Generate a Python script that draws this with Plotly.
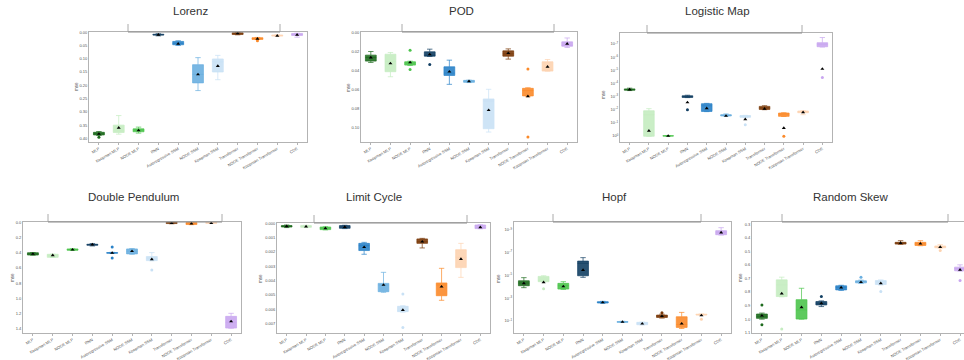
import plotly.graph_objects as go

W, H = 964, 360

methods = ["MLP", "Koopman MLP", "NODE MLP", "RNN", "Autoregressive SSM", "NODE SSM",
           "Koopman SSM", "Transformer", "NODE Transformer", "Koopman Transformer", "CDE"]

colors = ["#1e6b1e", "#c4ecc0", "#4cc44c", "#123f63", "#2a82c8", "#6aafe0",
          "#c9e1f5", "#7a3a0a", "#fb8a2a", "#fdd3b0", "#c9a6f0"]

# per method: [lower whisker, q1, median, q3, upper whisker, mean]
lorenz_stats = [
    [0.374, 0.377, 0.381, 0.387, 0.389, 0.383],
    [0.314, 0.350, 0.369, 0.3775, 0.384, 0.360],
    [0.3575, 0.364, 0.369, 0.375, 0.380, 0.370],
    [0.006, 0.008, 0.010, 0.011, 0.014, 0.010],
    [0.0325, 0.035, 0.0425, 0.0475, 0.050, 0.044],
    [0.096, 0.1225, 0.159, 0.191, 0.220, 0.159],
    [0.0875, 0.101, 0.111, 0.150, 0.179, 0.1275],
    [0.001, 0.0025, 0.005, 0.009, 0.010, 0.005],
    [0.020, 0.021, 0.0225, 0.0275, 0.028, 0.025],
    [0.010, 0.011, 0.0125, 0.015, 0.016, 0.014],
    [0.004, 0.005, 0.0075, 0.0125, 0.019, 0.010],
]
lorenz_outliers = [[0.396], [], [], [], [], [], [], [], [0.0325], [], []]

pod_stats = [
    [0.0203, 0.0241, 0.0266, 0.0304, 0.0318, 0.0266],
    [0.0213, 0.0231, 0.0308, 0.0416, 0.0469, 0.0329],
    [0.0305, 0.0311, 0.0325, 0.0346, 0.0350, 0.0318],
    [0.0178, 0.0206, 0.0245, 0.0252, 0.0255, 0.0234],
    [0.0294, 0.0364, 0.0430, 0.0455, 0.0549, 0.0416],
    [0.0505, 0.0507, 0.0515, 0.0528, 0.0530, 0.0517],
    [0.0601, 0.0703, 0.0724, 0.1017, 0.1052, 0.0822],
    [0.0175, 0.0196, 0.0227, 0.0252, 0.0283, 0.0220],
    [0.0585, 0.0591, 0.0615, 0.0671, 0.0680, 0.0675],
    [0.0287, 0.0311, 0.0402, 0.0409, 0.0410, 0.0364],
    [0.0060, 0.0101, 0.0136, 0.0147, 0.0160, 0.0122],
]
pod_outliers = [[], [], [0.0189, 0.0392], [0.0339], [], [], [], [], [0.0388, 0.1105], [], []]

logistic_stats = [
    [2.3e-4, 2.6e-4, 2.9e-4, 3.3e-4, 3.5e-4, 2.9e-4],
    [8.3e-3, 1.2e-2, 2.4e-2, 1.05, 1.05, 0.41],
    [0.95, 0.97, 0.99, 1.01, 1.03, 0.99],
    [7.9e-4, 8.7e-4, 1.0e-3, 1.17e-3, 1.2e-3, 2.8e-3],
    [3.3e-3, 3.5e-3, 5.0e-3, 1.35e-2, 1.4e-2, 7.9e-3],
    [2.1e-2, 2.4e-2, 2.7e-2, 3.0e-2, 3.1e-2, 3.0e-2],
    [2.7e-2, 2.8e-2, 3.2e-2, 3.8e-2, 4.0e-2, 5.4e-2],
    [5.0e-3, 5.6e-3, 7.2e-3, 9.5e-3, 1.0e-2, 8.5e-3],
    [1.7e-2, 1.8e-2, 2.2e-2, 3.2e-2, 3.3e-2, 0.25],
    [1.2e-2, 1.26e-2, 1.5e-2, 1.7e-2, 2.4e-2, 1.6e-2],
    [3.2e-8, 7.9e-8, 1.05e-7, 1.6e-7, 1.7e-7, 7.9e-6],
]
logistic_outliers = [[], [], [], [1.0e-2], [], [], [0.14], [], [1.05], [], [3.5e-5]]

pendulum_stats = [
    [0.398, 0.400, 0.415, 0.430, 0.432, 0.415],
    [0.418, 0.420, 0.424, 0.460, 0.462, 0.433],
    [0.348, 0.350, 0.360, 0.367, 0.370, 0.360],
    [0.280, 0.289, 0.293, 0.302, 0.311, 0.293],
    [0.395, 0.398, 0.402, 0.406, 0.410, 0.402],
    [0.345, 0.350, 0.380, 0.415, 0.420, 0.380],
    [0.398, 0.450, 0.472, 0.503, 0.505, 0.486],
    [0.000, 0.002, 0.006, 0.0175, 0.020, 0.013],
    [0.002, 0.004, 0.017, 0.030, 0.032, 0.017],
    [0.000, 0.002, 0.006, 0.015, 0.017, 0.013],
    [1.194, 1.234, 1.312, 1.387, 1.390, 1.300],
]
pendulum_outliers = [[], [], [], [], [0.324, 0.468], [], [0.626], [], [], [], []]

limit_stats = [
    [0.00012, 0.00016, 0.00021, 0.00026, 0.00030, 0.00021],
    [0.00014, 0.00016, 0.00023, 0.00028, 0.00030, 0.00023],
    [0.00024, 0.00026, 0.00035, 0.00044, 0.00046, 0.00035],
    [0.00014, 0.00016, 0.00026, 0.00035, 0.00037, 0.00026],
    [0.00133, 0.00140, 0.00156, 0.00190, 0.00216, 0.00167],
    [0.00342, 0.00419, 0.00430, 0.00477, 0.00481, 0.00430],
    [0.00575, 0.00579, 0.00612, 0.00616, 0.00620, 0.00605],
    [0.00105, 0.00109, 0.00128, 0.00140, 0.00172, 0.00128],
    [0.00314, 0.00416, 0.00430, 0.00505, 0.00537, 0.00442],
    [0.00140, 0.00184, 0.00237, 0.00309, 0.00377, 0.00249],
    [0.00010, 0.00012, 0.00035, 0.00037, 0.00038, 0.00028],
]
limit_outliers = [[], [], [], [], [], [], [0.00493, 0.00726], [], [], [], []]

hopf_stats = [
    [1.55e-5, 2.9e-5, 4.6e-5, 7.9e-5, 1.17e-4, 4.9e-5],
    [1.05e-5, 1.2e-5, 2.7e-5, 3.5e-5, 3.6e-5, 4.0e-5],
    [3.5e-5, 4.9e-5, 7.9e-5, 1.55e-4, 1.66e-4, 9.1e-5],
    [2.7e-7, 5.4e-7, 8.5e-7, 1.05e-5, 1.45e-5, 3.3e-6],
    [1.86e-3, 2.0e-3, 2.3e-3, 2.6e-3, 2.8e-3, 2.3e-3],
    [0.105, 0.11, 0.12, 0.13, 0.135, 0.12],
    [0.125, 0.13, 0.16, 0.21, 0.22, 0.17],
    [2.5e-2, 3.0e-2, 3.7e-2, 4.8e-2, 5.5e-2, 3.7e-2],
    [1.74e-2, 4.2e-2, 0.20, 0.36, 0.45, 0.17],
    [2.4e-2, 2.5e-2, 2.8e-2, 2.95e-2, 3.0e-2, 3.2e-2],
    [6.3e-10, 1.15e-9, 1.6e-9, 2.6e-9, 2.8e-9, 1.7e-9],
]
hopf_outliers = [[], [1.45e-4], [], [], [], [], [], [1.9e-2], [], [6.8e-2], []]

skew_stats = [
    [0.955, 0.962, 0.979, 0.994, 1.000, 0.974],
    [0.690, 0.710, 0.747, 0.833, 0.835, 0.811],
    [0.772, 0.856, 0.932, 0.999, 1.000, 0.912],
    [0.865, 0.870, 0.883, 0.895, 0.907, 0.883],
    [0.750, 0.754, 0.767, 0.784, 0.788, 0.767],
    [0.712, 0.717, 0.722, 0.732, 0.737, 0.727],
    [0.710, 0.715, 0.720, 0.744, 0.748, 0.735],
    [0.421, 0.433, 0.438, 0.446, 0.448, 0.438],
    [0.421, 0.433, 0.443, 0.456, 0.458, 0.443],
    [0.450, 0.460, 0.468, 0.473, 0.476, 0.468],
    [0.599, 0.616, 0.626, 0.643, 0.645, 0.636],
]
skew_outliers = [[0.895, 1.041], [1.073], [], [0.833], [], [0.69], [0.796], [], [], [0.493], [0.715]]

lin_ticks_lorenz = [0.00, 0.05, 0.10, 0.15, 0.20, 0.25, 0.30, 0.35, 0.40]
lin_ticks_pod = [0.00, 0.02, 0.04, 0.06, 0.08, 0.10]
log_ticks_logistic = [-7, -6, -5, -4, -3, -2, -1, 0]
lin_ticks_pendulum = [0.0, 0.2, 0.4, 0.6, 0.8, 1.0, 1.2, 1.4]
lin_ticks_limit = [0.000, 0.001, 0.002, 0.003, 0.004, 0.005, 0.006, 0.007]
log_ticks_hopf = [-9, -7, -5, -3, -1]
lin_ticks_skew = [0.3, 0.4, 0.5, 0.6, 0.7, 0.8, 0.9, 1.0, 1.1]

# layout of panels (pixels)
panels = [
    dict(title="Lorenz", stats=lorenz_stats, out=lorenz_outliers, box=(89, 307, 32, 142),
         yr=[0.4135, -0.0005], ticks=lin_ticks_lorenz, fmt="{:.2f}", log=False,
         tx=190, ty=11, br=(128, 280), mse=(76, 87), xr=[-0.5, 10.5]),
    dict(title="POD", stats=pod_stats, out=pod_outliers, box=(361, 577, 32, 142),
         yr=[0.1157, -0.0003], ticks=lin_ticks_pod, fmt="{:.2f}", log=False,
         tx=461, ty=11, br=(402, 554), mse=(348, 88), xr=[-0.5, 10.5]),
    dict(title="Logistic Map", stats=logistic_stats, out=logistic_outliers, box=(620, 832, 33, 142),
         yr=[0.46, -7.84], ticks=log_ticks_logistic, fmt=None, log=True,
         tx=717, ty=11, br=(647, 802), mse=(604, 95), xr=[-0.5, 10.5]),
    dict(title="Double Pendulum", stats=pendulum_stats, out=pendulum_outliers, box=(23, 241, 222, 333),
         yr=[1.452, -0.003], ticks=lin_ticks_pendulum, fmt="{:.1f}", log=False,
         tx=133, ty=197, br=(48, 222), mse=(12, 278), xr=[-0.5, 10.5]),
    dict(title="Limit Cycle", stats=limit_stats, out=limit_outliers, box=(277, 490, 223, 333),
         yr=[0.00765, -0.00002], ticks=lin_ticks_limit, fmt="{:.3f}", log=False,
         tx=374, ty=197, br=(314, 467), mse=(260, 279), xr=[-0.5, 10.5]),
    dict(title="Hopf", stats=hopf_stats, out=hopf_outliers, box=(514, 731, 222, 333),
         yr=[0.05, -9.7], ticks=log_ticks_hopf, fmt=None, log=True,
         tx=614, ty=197, br=(553, 701), mse=(498, 279), xr=[-0.5, 10.5]),
    dict(title="Random Skew", stats=skew_stats, out=skew_outliers, box=(752, 964, 222, 333),
         yr=[1.102, 0.283], ticks=lin_ticks_skew, fmt="{:.1f}", log=False,
         tx=850, ty=197, br=(782, 948), mse=(740, 278), xr=[-0.5, 10.2]),
]


def rgba(hx, a):
    h = hx.lstrip("#")
    r, g, b = int(h[0:2], 16), int(h[2:4], 16), int(h[4:6], 16)
    return f"rgba({r},{g},{b},{a})"


fig = go.Figure()
annotations = []
shapes = []
layout = {}
FONT = "Liberation Sans, Arial, sans-serif"
FRAME = "#b3b3b3"

for i, p in enumerate(panels):
    n = i + 1
    xa = "x" if n == 1 else f"x{n}"
    ya = "y" if n == 1 else f"y{n}"
    x0, x1, y0, y1 = p["box"]
    for j, m in enumerate(methods):
        lo, q1, med, q3, hi, mean = p["stats"][j]
        c = colors[j]
        fig.add_trace(go.Box(
            x=[m], q1=[q1], median=[med], q3=[q3], lowerfence=[lo], upperfence=[hi],
            width=0.55, whiskerwidth=0.5,
            fillcolor=rgba(c, 0.9), line=dict(color=rgba(c, 0.7), width=1),
            boxpoints=False, showlegend=False, hoverinfo="skip",
            xaxis=xa, yaxis=ya))
        if p["out"][j]:
            fig.add_trace(go.Scatter(
                x=[m] * len(p["out"][j]), y=p["out"][j], mode="markers",
                marker=dict(symbol="circle", size=3, color=c), showlegend=False,
                hoverinfo="skip", xaxis=xa, yaxis=ya))
    fig.add_trace(go.Scatter(
        x=methods, y=[s[5] for s in p["stats"]], mode="markers",
        marker=dict(symbol="triangle-up", size=3.5, color="black"),
        showlegend=False, hoverinfo="skip", xaxis=xa, yaxis=ya))

    xkey = "xaxis" if n == 1 else f"xaxis{n}"
    ykey = "yaxis" if n == 1 else f"yaxis{n}"
    layout[xkey] = dict(
        domain=[x0 / W, x1 / W], anchor=ya, type="category",
        categoryorder="array", categoryarray=methods, range=p["xr"],
        showline=True, linecolor=FRAME, linewidth=1, mirror=True,
        showgrid=False, zeroline=False, ticks="outside", ticklen=2, tickcolor=FRAME,
        tickangle=-30, tickfont=dict(size=4, color="#555", family=FONT), automargin=False)
    if p["log"]:
        tv = [10.0 ** e for e in p["ticks"]]
        tt = [f"10<sup>{'−' if e < 0 else ''}{abs(e)}</sup>" for e in p["ticks"]]
        ytype = "log"
    else:
        tv = p["ticks"]
        tt = [p["fmt"].format(v) for v in p["ticks"]]
        ytype = "linear"
    layout[ykey] = dict(
        domain=[1 - y1 / H, 1 - y0 / H], anchor=xa, type=ytype, range=p["yr"],
        tickvals=tv, ticktext=tt,
        showline=True, linecolor=FRAME, linewidth=1, mirror=True,
        showgrid=False, zeroline=False, ticks="", ticklen=2,
        tickfont=dict(size=4, color="#555", family=FONT), automargin=False)

    annotations.append(dict(text=p["title"], x=p["tx"] / W, y=1 - p["ty"] / H,
                            xref="paper", yref="paper", showarrow=False,
                            xanchor="center", yanchor="middle",
                            font=dict(size=11.5, color="#333", family=FONT)))
    annotations.append(dict(text="mse", x=p["mse"][0] / W, y=1 - p["mse"][1] / H,
                            xref="paper", yref="paper", showarrow=False, textangle=-90,
                            xanchor="center", yanchor="middle",
                            font=dict(size=4.5, color="#555", family=FONT)))
    for bx in p["br"]:
        shapes.append(dict(type="line", xref="paper", yref="paper",
                           x0=bx / W, x1=bx / W, y0=1 - y0 / H, y1=1 - (y0 - 8) / H,
                           line=dict(color="#aaaaaa", width=1)))
    shapes.append(dict(type="line", xref="paper", yref="paper",
                       x0=p["br"][0] / W, x1=p["br"][1] / W, y0=1 - y0 / H, y1=1 - y0 / H,
                       line=dict(color="#8c8c8c", width=1)))

fig.update_layout(
    width=W, height=H, margin=dict(l=0, r=0, t=0, b=0),
    paper_bgcolor="white", plot_bgcolor="white",
    annotations=annotations, shapes=shapes, boxmode="overlay",
    **layout)

fig.write_html("out.html")
